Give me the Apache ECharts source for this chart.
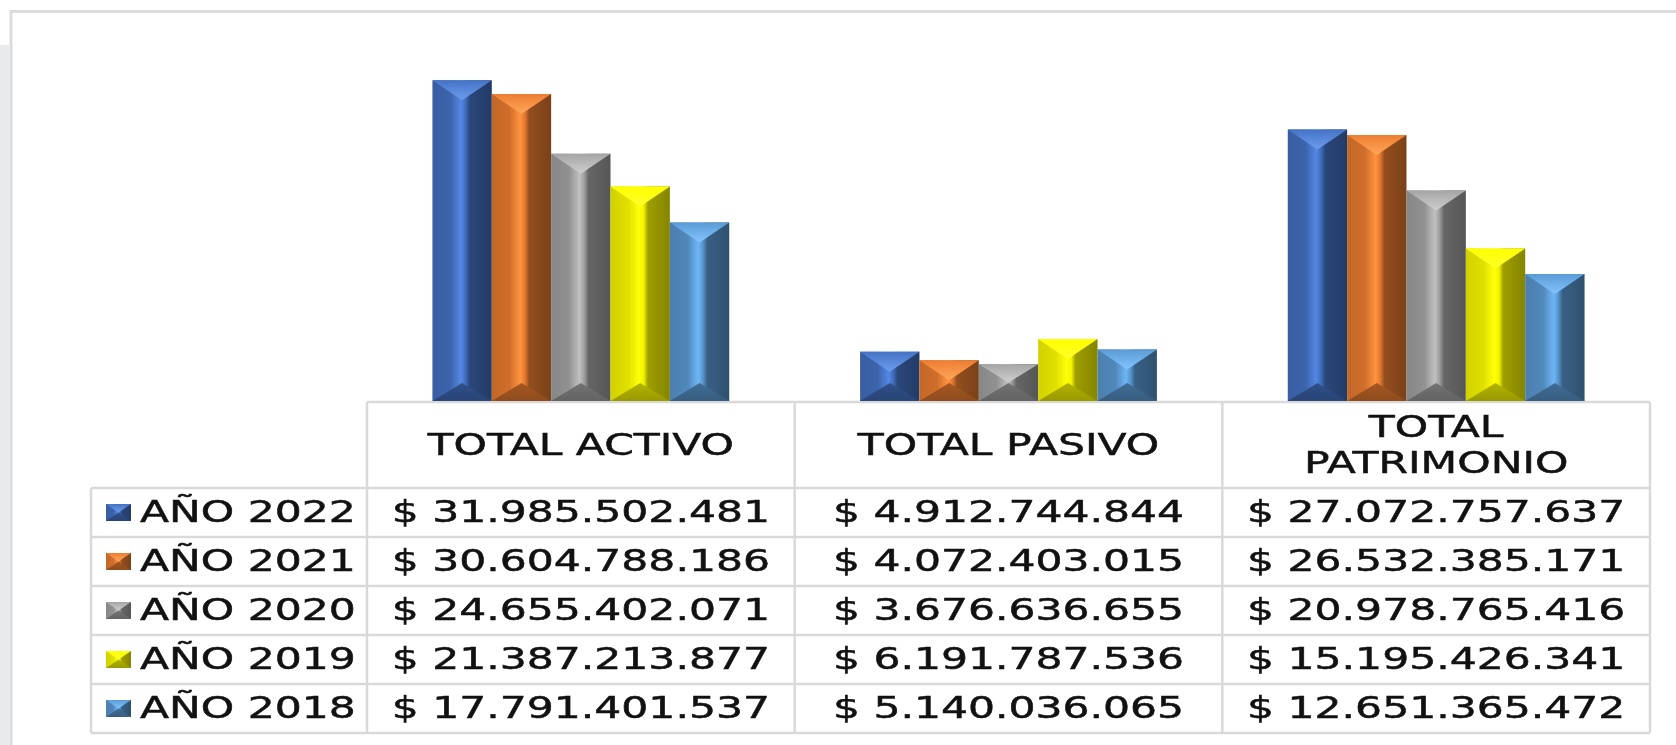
<!DOCTYPE html>
<html>
<head>
<meta charset="utf-8">
<script src="https://cdn.jsdelivr.net/npm/echarts@6/dist/echarts.min.js"></script>
<style>
  html, body { margin: 0; padding: 0; background: #fff; }
  #chart { width: 1676px; height: 745px; }
</style>
</head>
<body>
<div id="chart"></div>
<script>
// data
const categories = ['TOTAL ACTIVO', 'TOTAL PASIVO', 'TOTAL PATRIMONIO']
const yearLabels = ['AÑO 2022', 'AÑO 2021', 'AÑO 2020', 'AÑO 2019', 'AÑO 2018']
const year2022 = [31985502481, 4912744844, 27072757637]
const year2021 = [30604788186, 4072403015, 26532385171]
const year2020 = [24655402071, 3676636655, 20978765416]
const year2019 = [21387213877, 6191787536, 15195426341]
const year2018 = [17791401537, 5140036065, 12651365472]
const yearValues = [year2022, year2021, year2020, year2019, year2018]

// styles / layout
const baseColors = ['#4472c4', '#ed7d31', '#a5a5a5', '#ffff00', '#5b9bd5']
const gridLeft = 367, gridRight = 1650, baseY = 401
const catGap = 0.306
const tableTop = 402, headerBottom = 488, rowH = 49, legendLeft = 91
const lineColor = '#d9d9d9'
const font = {
  fontFamily: 'DejaVu Sans', fontSize: 31, fill: '#111',
  stroke: '#111', lineWidth: 0.5
}
const stretch = 1.37

function shade(hex, k, add) {
  add = add || 0
  const n = parseInt(hex.slice(1), 16)
  const c = [(n >> 16) & 255, (n >> 8) & 255, n & 255].map(v => {
    return Math.max(0, Math.min(255, Math.round(v * k + add)))
  })
  return 'rgb(' + c.join(',') + ')'
}

// bevelled box like the excel "angle" bevel
function bevel(x, y, w, h, color, dTop, dBot) {
  dTop = Math.min(dTop, h / 2)
  dBot = Math.min(dBot, h / 2)
  const xc = x + w / 2
  return [
    {
      type: 'rect',
      shape: { x: x, y: y, width: w, height: h },
      style: {
        fill: new echarts.graphic.LinearGradient(0, 0, 1, 0, [
          { offset: 0, color: shade(color, 0.82) },
          { offset: 0.3, color: shade(color, 0.88) },
          { offset: 0.48, color: shade(color, 1.12, 8) },
          { offset: 0.56, color: shade(color, 0.95) },
          { offset: 0.63, color: shade(color, 0.62) },
          { offset: 1, color: shade(color, 0.52) }
        ])
      }
    },
    {
      type: 'polygon',
      shape: { points: [[x, y], [x + w, y], [xc, y + dTop]] },
      style: {
        fill: new echarts.graphic.LinearGradient(0, 0, 0, 1, [
          { offset: 0, color: shade(color, 1) },
          { offset: 1, color: shade(color, 1, 42) }
        ])
      }
    },
    {
      type: 'polygon',
      shape: { points: [[x, y + h], [x + w, y + h], [xc, y + h - dBot]] },
      style: {
        fill: new echarts.graphic.LinearGradient(0, 0, 0, 1, [
          { offset: 0, color: shade(color, 0.7) },
          { offset: 1, color: shade(color, 0.6) }
        ])
      }
    }
  ]
}

function renderBar(params, api) {
  const si = params.seriesIndex
  const cat = api.value(0)
  const base = api.coord([cat, 0])
  const top = api.coord([cat, api.value(1)])
  const band = api.size([1, 0])[0]
  const groupW = band * (1 - catGap)
  const w = groupW / yearLabels.length
  const x = base[0] - groupW / 2 + si * w
  return {
    type: 'group',
    children: bevel(x, top[1], w, base[1] - top[1], baseColors[si], 20, 18)
  }
}

function money(v) {
  return '$ ' + String(v).replace(/\B(?=(\d{3})+(?!\d))/g, '.')
}

function buildTable() {
  const els = []
  const colW = (gridRight - gridLeft) / categories.length
  const tableBottom = headerBottom + rowH * yearLabels.length
  // outer frame of the chart area
  els.push({ type: 'rect', shape: { x: 0, y: 45, width: 9, height: 720 }, style: { fill: '#e9eaec' } })
  els.push({ type: 'rect', shape: { x: 11, y: 11.5, width: 1700, height: 800 }, style: { fill: null, stroke: '#dcdcdc', lineWidth: 3 } })

  els.push({ type: 'line', shape: { x1: gridLeft, y1: tableTop, x2: gridRight, y2: tableTop }, style: { stroke: lineColor, lineWidth: 2.5 } })
  for (let i = 0; i <= yearLabels.length; i++) {
    const y = headerBottom + rowH * i
    els.push({ type: 'line', shape: { x1: legendLeft, y1: y, x2: gridRight, y2: y }, style: { stroke: lineColor, lineWidth: 2.5 } })
  }
  els.push({ type: 'line', shape: { x1: legendLeft, y1: headerBottom, x2: legendLeft, y2: tableBottom }, style: { stroke: lineColor, lineWidth: 2.5 } })
  for (let c = 0; c <= categories.length; c++) {
    const x = gridLeft + colW * c
    els.push({ type: 'line', shape: { x1: x, y1: tableTop, x2: x, y2: tableBottom }, style: { stroke: lineColor, lineWidth: 2.5 } })
  }

  // header
  categories.forEach((name, c) => {
    const txt = name.length > 13 ? name.replace(' ', '\n') : name
    els.push({
      type: 'text', x: gridLeft + colW * (c + 0.5), y: (tableTop + headerBottom) / 2 + 2, scaleX: stretch,
      style: Object.assign({ text: txt, align: 'center', verticalAlign: 'middle', lineHeight: 36 }, font)
    })
  })

  // rows
  yearLabels.forEach((label, r) => {
    const cy = headerBottom + rowH * (r + 0.5)
    els.push({ type: 'group', children: bevel(106, cy - 8.5, 25, 17, baseColors[r], 8.5, 8.5) })
    els.push({
      type: 'text', x: 140, y: cy + 1, scaleX: stretch,
      style: Object.assign({ text: label, align: 'left', verticalAlign: 'middle' }, font)
    })
    yearValues[r].forEach((v, c) => {
      els.push({
        type: 'text', x: gridLeft + colW * (c + 0.5), y: cy + 1, scaleX: stretch,
        style: Object.assign({ text: money(v), align: 'center', verticalAlign: 'middle' }, font)
      })
    })
  })
  return els
}

const chartInstance = echarts.init(document.getElementById('chart'))
const option = {
  animation: false,
  grid: { left: gridLeft, right: 1676 - gridRight, top: 50, bottom: 745 - baseY },
  xAxis: { type: 'category', data: categories, show: false },
  yAxis: { type: 'value', min: 0, max: 35e9, show: false },
  series: yearLabels.map((name, si) => ({
    type: 'custom',
    name: name,
    renderItem: renderBar,
    encode: { x: 0, y: 1 },
    data: yearValues[si].map((v, i) => [i, v])
  })),
  graphic: buildTable()
}
chartInstance.setOption(option)
</script>
</body>
</html>
